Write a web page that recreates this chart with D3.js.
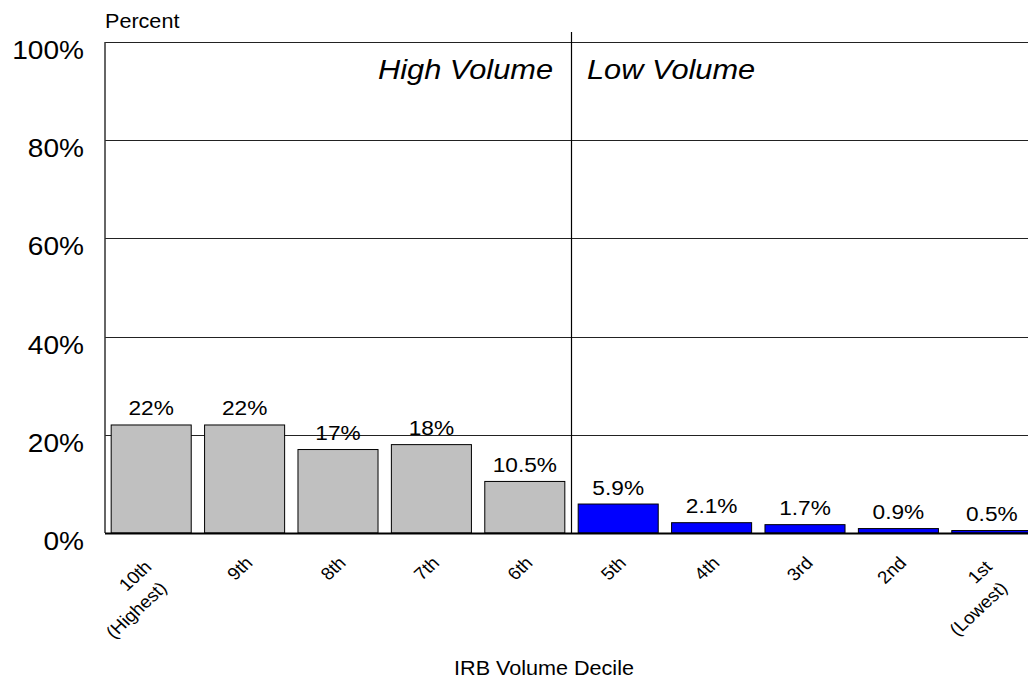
<!DOCTYPE html>
<html>
<head>
<meta charset="utf-8">
<script src="https://cdn.jsdelivr.net/npm/d3@7"></script>
<style>
  html, body { margin: 0; padding: 0; background: #fff; }
  svg { display: block; }
  text { font-family: "Liberation Sans", Arial, Helvetica, sans-serif; fill: #000; }
</style>
</head>
<body>
<svg id="chart" width="1028" height="683"></svg>
<script>
// ---- data ----
const categories = ["10th|(Highest)", "9th", "8th", "7th", "6th", "5th", "4th", "3rd", "2nd", "1st|(Lowest)"];
const values = [22, 22, 17, 18, 10.5, 5.9, 2.1, 1.7, 0.9, 0.5];
const valueLabels = ["22%", "22%", "17%", "18%", "10.5%", "5.9%", "2.1%", "1.7%", "0.9%", "0.5%"];
const groups = ["high", "high", "high", "high", "high", "low", "low", "low", "low", "low"];
const yTicks = [0, 20, 40, 60, 80, 100];
const yTickLabels = ["0%", "20%", "40%", "60%", "80%", "100%"];
const sectionLabels = ["High Volume", "Low Volume"];

const svg = d3.select("#chart");
const SX = 1.08; // horizontal stretch of glyphs as in the reference

const x = d3.scaleBand().domain(categories).range([104.5, 1038.5]).paddingInner(0.143).paddingOuter(0.0715);
const y = d3.scaleLinear().domain([0, 100]).range([533, 42]);
const xLeft = 105, xRight = 1028;

function txt(g, str, tx, ty, opts) {
  opts = opts || {};
  const t = g.append("text")
    .attr("transform", `translate(${tx},${ty}) scale(${SX},1)` + (opts.rotate ? ` rotate(${opts.rotate})` : ""))
    .attr("text-anchor", opts.anchor || "start")
    .attr("font-size", opts.size || 16)
    .text(str);
  if (opts.italic) t.attr("font-style", "italic");
  return t;
}

// gridlines
svg.append("g").selectAll("line").data(yTicks.filter(d => d > 0)).join("line")
  .attr("x1", xLeft).attr("x2", xRight)
  .attr("y1", d => Math.round(y(d)) + 0.5).attr("y2", d => Math.round(y(d)) + 0.5)
  .attr("stroke", "#222").attr("stroke-width", 1);

// bars
svg.append("g").selectAll("rect").data(categories).join("rect")
  .attr("x", d => x(d))
  .attr("y", (d, i) => y(values[i]))
  .attr("width", x.bandwidth())
  .attr("height", (d, i) => y(0) - y(values[i]))
  .attr("fill", (d, i) => groups[i] === "high" ? "#C0C0C0" : "#0000FF")
  .attr("stroke", "#000").attr("stroke-width", 1);

// divider line
const divX = x(categories[5]) - (x.step() - x.bandwidth()) / 2;
svg.append("line").attr("x1", divX).attr("x2", divX).attr("y1", 32).attr("y2", y(0))
  .attr("stroke", "#000").attr("stroke-width", 1.2);

// axes lines
svg.append("line").attr("x1", xLeft).attr("x2", xLeft).attr("y1", y(100)).attr("y2", y(0))
  .attr("stroke", "#333").attr("stroke-width", 1.5);
svg.append("line").attr("x1", xLeft).attr("x2", xRight).attr("y1", y(0) + 0.5).attr("y2", y(0) + 0.5)
  .attr("stroke", "#000").attr("stroke-width", 2);

// y tick labels
const gy = svg.append("g");
yTicks.forEach((d, i) => txt(gy, yTickLabels[i], 84, y(d) + 17, { anchor: "end", size: 26 }));
txt(svg, "Percent", 105, 28, { size: 20 });

// value labels
const gv = svg.append("g");
categories.forEach((c, i) => txt(gv, valueLabels[i], x(c) + x.bandwidth() / 2, y(values[i]) - 9.5, { anchor: "middle", size: 21 }));

// section labels
txt(svg, sectionLabels[0], 553, 79, { anchor: "end", size: 28.5, italic: true });
txt(svg, sectionLabels[1], 587, 79, { anchor: "start", size: 28.5, italic: true });

// x tick labels (rotated -45)
const gx = svg.append("g");
const c45 = Math.SQRT1_2;
categories.forEach(c => {
  const lines = c.split("|");
  const bc = x(c) + x.bandwidth() / 2;
  if (lines.length === 1) {
    txt(gx, lines[0], bc + 9, 564, { anchor: "end", size: 17.5, rotate: -45 });
  } else {
    const ax = bc + 1.5, ay = 568;
    lines.forEach((l, k) => {
      const u = -5 * k, v = 25 * k;
      txt(gx, l, ax + (u + v) * c45 * SX, ay + (-u + v) * c45, { anchor: "end", size: 17.5, rotate: -45 });
    });
  }
});

// x axis title
txt(svg, "IRB Volume Decile", 544, 675, { anchor: "middle", size: 20 });
</script>
</body>
</html>
